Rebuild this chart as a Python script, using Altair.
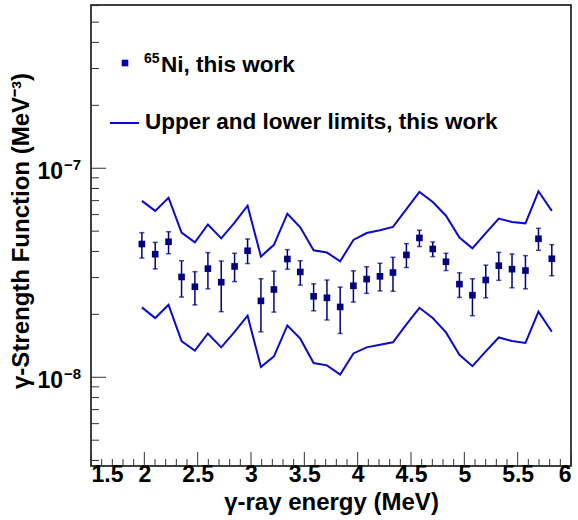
import altair as alt
import pandas as pd

FONT = "Liberation Sans"
MARKER = "#000080"
LIMIT = "#0a0acc"

# gamma-ray energy of each bin (MeV)
energy = [1.977, 2.102, 2.227, 2.349, 2.474, 2.596, 2.721, 2.846, 2.968, 3.093,
          3.215, 3.341, 3.462, 3.587, 3.712, 3.836, 3.960, 4.084, 4.209, 4.331,
          4.457, 4.579, 4.704, 4.828, 4.954, 5.076, 5.201, 5.323, 5.447, 5.573,
          5.695, 5.820]
# strength function and its error band, in units of 1e-8 MeV^-3
strength = [4.34, 3.88, 4.45, 3.02, 2.71, 3.31, 2.85, 3.39, 4.03, 2.32,
            2.63, 3.68, 3.19, 2.44, 2.40, 2.17, 2.74, 2.95, 3.04, 3.17,
            3.85, 4.64, 4.11, 3.57, 2.79, 2.47, 2.92, 3.42, 3.29, 3.24,
            4.60, 3.69]
err_hi = [4.92, 4.42, 4.97, 3.61, 3.20, 3.95, 3.60, 3.92, 4.59, 2.96,
          3.22, 4.08, 3.61, 2.80, 2.92, 2.70, 3.23, 3.38, 3.51, 3.75,
          4.36, 5.05, 4.44, 3.92, 3.16, 2.96, 3.44, 3.96, 3.89, 3.82,
          5.16, 4.31]
err_lo = [3.72, 3.30, 3.90, 2.42, 2.22, 2.65, 2.06, 2.87, 3.50, 1.65,
          2.05, 3.29, 2.76, 2.08, 1.88, 1.62, 2.29, 2.52, 2.59, 2.58,
          3.35, 4.22, 3.78, 3.24, 2.41, 1.97, 2.40, 2.91, 2.68, 2.65,
          4.05, 3.06]
# upper and lower limits of the strength function (1e-8 MeV^-3)
upper = [6.98, 6.25, 7.23, 4.92, 4.42, 5.38, 4.62, 5.50, 6.62, 3.78,
         4.30, 6.06, 5.22, 4.05, 3.95, 3.59, 4.54, 4.90, 5.05, 5.24,
         6.37, 7.70, 6.90, 5.93, 4.66, 4.14, 4.89, 5.74, 5.53, 5.45,
         7.76, 6.25]
lower = [2.16, 1.92, 2.22, 1.49, 1.34, 1.62, 1.39, 1.65, 1.97, 1.12,
         1.26, 1.77, 1.53, 1.17, 1.14, 1.03, 1.30, 1.39, 1.43, 1.47,
         1.79, 2.15, 1.92, 1.64, 1.28, 1.13, 1.33, 1.55, 1.49, 1.46,
         2.06, 1.65]

# axis ticks
x_major = [1.5, 2.0, 2.5, 3.0, 3.5, 4.0, 4.5, 5.0, 5.5, 6.0]
x_minor = [round(1.5 + 0.1 * i, 2) for i in range(46) if i % 5 != 0]
y_major = [1e-8, 1e-7]
y_exp = ["\u22128", "\u22127"]
y_minor = [4e-9, 5e-9, 6e-9, 7e-9, 8e-9, 9e-9,
           2e-8, 3e-8, 4e-8, 5e-8, 6e-8, 7e-8, 8e-8, 9e-8,
           2e-7, 3e-7, 4e-7, 5e-7, 6e-7]

W, H = 480, 461
U = 1e-8

df = pd.DataFrame({
    "E": energy,
    "S": [v * U for v in strength],
    "hi": [v * U for v in err_hi],
    "lo": [v * U for v in err_lo],
    "up": [v * U for v in upper],
    "low": [v * U for v in lower],
})

xscale = alt.Scale(domain=[1.5, 6.0], nice=False, zero=False)
yscale = alt.Scale(type="log", domain=[3.763e-9, 6.04e-7], nice=False)

xaxis = alt.Axis(values=x_major, format="~g", labelFont=FONT, labelFontWeight="bold",
                 labelFontSize=23, labelColor="black", labelPadding=-3, ticks=False,
                 domain=False, grid=False, title="\u03b3-ray energy (MeV)",
                 titleFont=FONT, titleFontSize=24, titleFontWeight="bold",
                 titleColor="black", titleBaseline="alphabetic", titleY=43)
yaxis = alt.Axis(labels=False, ticks=False, domain=False, grid=False, title="")

base = alt.Chart(df)
X = alt.X("E:Q", scale=xscale, axis=xaxis)

upper_line = base.mark_line(color=LIMIT, strokeWidth=2).encode(
    x=X, y=alt.Y("up:Q", scale=yscale, axis=yaxis))
lower_line = base.mark_line(color=LIMIT, strokeWidth=2).encode(
    x=alt.X("E:Q", scale=xscale), y=alt.Y("low:Q", scale=yscale))

bars = base.mark_rule(color=MARKER, strokeWidth=1.5).encode(
    x=alt.X("E:Q", scale=xscale), y=alt.Y("lo:Q", scale=yscale), y2="hi:Q")
cap_hi = base.mark_tick(color=MARKER, orient="horizontal", size=5, thickness=1.5).encode(
    x=alt.X("E:Q", scale=xscale), y=alt.Y("hi:Q", scale=yscale))
cap_lo = base.mark_tick(color=MARKER, orient="horizontal", size=5, thickness=1.5).encode(
    x=alt.X("E:Q", scale=xscale), y=alt.Y("lo:Q", scale=yscale))
points = base.mark_square(color=MARKER, size=44, opacity=1).encode(
    x=alt.X("E:Q", scale=xscale), y=alt.Y("S:Q", scale=yscale))

# inward-pointing axis ticks
TICK = "#333333"
xt_major = alt.Chart(pd.DataFrame({"v": x_major})).mark_rule(color=TICK, strokeWidth=1).encode(
    x=alt.X("v:Q", scale=xscale), y=alt.value(H), y2=alt.value(H - 14))
xt_minor = alt.Chart(pd.DataFrame({"v": x_minor})).mark_rule(color=TICK, strokeWidth=1).encode(
    x=alt.X("v:Q", scale=xscale), y=alt.value(H), y2=alt.value(H - 7))
yt_major = alt.Chart(pd.DataFrame({"v": y_major})).mark_rule(color=TICK, strokeWidth=1).encode(
    y=alt.Y("v:Q", scale=yscale), x=alt.value(0), x2=alt.value(15))
yt_minor = alt.Chart(pd.DataFrame({"v": y_minor})).mark_rule(color=TICK, strokeWidth=1).encode(
    y=alt.Y("v:Q", scale=yscale), x=alt.value(0), x2=alt.value(8))

# y tick labels written as 10 with a raised exponent
ylab_df = pd.DataFrame({"v": y_major, "e": y_exp, "b": ["10", "10"]})
ylab_base = alt.Chart(ylab_df).mark_text(font=FONT, fontWeight="bold", fontSize=23,
                                         align="right", baseline="alphabetic", dy=11,
                                         color="black").encode(
    y=alt.Y("v:Q", scale=yscale), x=alt.value(-28), text="b:N")
ylab_exp = alt.Chart(ylab_df).mark_text(font=FONT, fontWeight="bold", fontSize=15,
                                        align="left", baseline="alphabetic", dy=2,
                                        color="black").encode(
    y=alt.Y("v:Q", scale=yscale), x=alt.value(-27), text="e:N")

# y axis title
ytitle = alt.Chart(pd.DataFrame({"t": ["\u03b3-Strength Function (MeV\u207b\u00b3)"]})).mark_text(
    font=FONT, fontWeight="bold", fontSize=24, angle=270, align="center",
    baseline="middle", color="black").encode(
    x=alt.value(-69), y=alt.value(226), text="t:N")

# legend
leg_sq = alt.Chart(pd.DataFrame({"k": [0]})).mark_square(color="#0000b0", size=44, opacity=1).encode(
    x=alt.value(34), y=alt.value(58))
leg_sup = alt.Chart(pd.DataFrame({"t": ["65"]})).mark_text(
    font=FONT, fontWeight="bold", fontSize=14, align="left", baseline="alphabetic",
    color="black").encode(x=alt.value(53), y=alt.value(58), text="t:N")
leg_txt1 = alt.Chart(pd.DataFrame({"t": ["Ni, this work"]})).mark_text(
    font=FONT, fontWeight="bold", fontSize=22.5, align="left", baseline="alphabetic",
    color="black").encode(x=alt.value(70), y=alt.value(67), text="t:N")
leg_line = alt.Chart(pd.DataFrame({"k": [0]})).mark_rule(color=LIMIT, strokeWidth=2).encode(
    x=alt.value(19), x2=alt.value(48), y=alt.value(118))
leg_txt2 = alt.Chart(pd.DataFrame({"t": ["Upper and lower limits, this work"]})).mark_text(
    font=FONT, fontWeight="bold", fontSize=22.5, align="left", baseline="alphabetic",
    color="black").encode(x=alt.value(54), y=alt.value(124), text="t:N")

chart = alt.layer(
    upper_line, lower_line, bars, cap_hi, cap_lo, points,
    xt_major, xt_minor, yt_major, yt_minor, ylab_base, ylab_exp, ytitle,
    leg_sq, leg_sup, leg_txt1, leg_line, leg_txt2,
).properties(
    width=W, height=H,
    autosize=alt.AutoSizeParams(type="none"),
    padding={"left": 91, "top": 5, "right": 7, "bottom": 54},
    background="white",
).configure_view(stroke="black", strokeWidth=1.5)

chart.save("out.html", embed_options={"renderer": "svg", "actions": False})
